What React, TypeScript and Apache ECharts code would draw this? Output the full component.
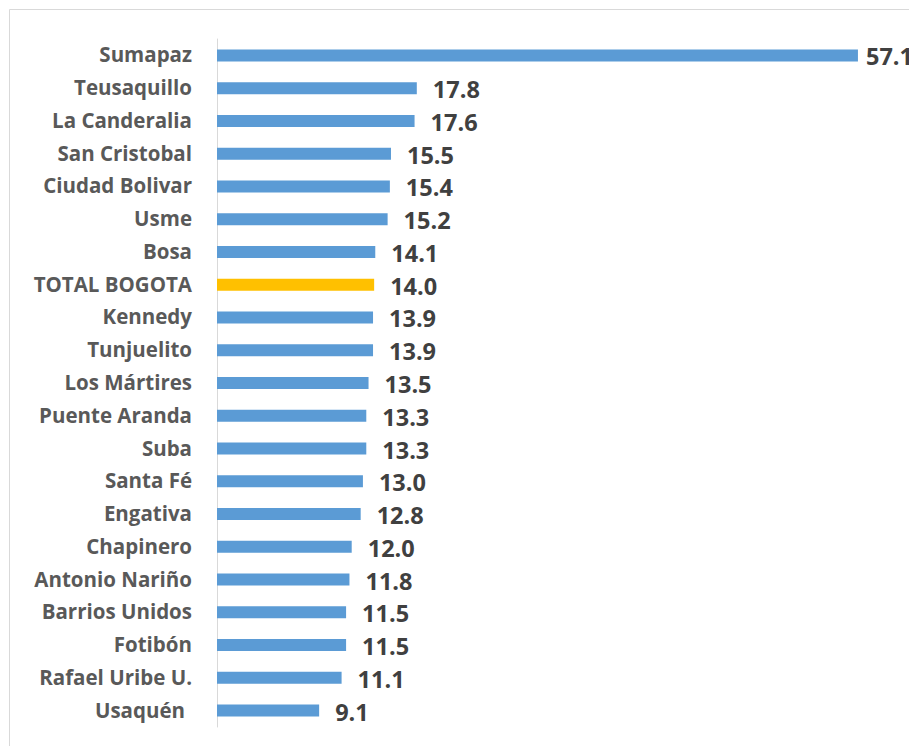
import React, { useEffect, useRef } from "react";
import * as echarts from "echarts";

const categories = [
  "Sumapaz", "Teusaquillo", "La Canderalia", "San Cristobal", "Ciudad Bolivar",
  "Usme", "Bosa", "TOTAL BOGOTA", "Kennedy", "Tunjuelito", "Los Mártires",
  "Puente Aranda", "Suba", "Santa Fé", "Engativa", "Chapinero", "Antonio Nariño",
  "Barrios Unidos", "Fotibón", "Rafael Uribe U.", "Usaquén",
];
const values = [
  57.1, 17.8, 17.6, 15.5, 15.4, 15.2, 14.1, 14.0, 13.9, 13.9, 13.5,
  13.3, 13.3, 13.0, 12.8, 12.0, 11.8, 11.5, 11.5, 11.1, 9.1,
];
const highlight = "TOTAL BOGOTA";

export default function App() {
  const ref = useRef<HTMLDivElement>(null);
  useEffect(() => {
    document.body.style.margin = "0";
    const chart = echarts.init(ref.current!, null, { renderer: "svg" });
    const font = "Open Sans";
    const catStyle = {
      color: "#595959",
      fontFamily: font,
      fontWeight: "bold",
      fontSize: 20.5,
    };
    chart.setOption({
      animation: false,
      backgroundColor: "#ffffff",
      graphic: [
        {
          type: "rect",
          shape: { x: 9.5, y: 9.5, width: 1200, height: 1200 },
          style: { fill: "none", stroke: "#d9d9d9", lineWidth: 1 },
          silent: true,
        },
      ],
      grid: { left: 217, top: 39, width: 673.5, height: 688, containLabel: false },
      xAxis: {
        type: "value",
        min: 0,
        max: 60,
        show: false,
      },
      yAxis: {
        type: "category",
        inverse: true,
        data: categories,
        axisLine: { show: true, lineStyle: { color: "#d9d9d9", width: 1 } },
        axisTick: { show: false },
        axisLabel: {
          margin: 25,
          ...catStyle,
          formatter: (v: string) => (v === "Usaquén" ? "{u|" + v + "}" : "{c|" + v + "}"),
          rich: {
            c: { ...catStyle, padding: [0, 0, 2, 0] },
            u: { ...catStyle, padding: [0, 7, 2, 0] },
          },
        },
        splitLine: { show: false },
      },
      series: [
        {
          type: "bar",
          barWidth: 12,
          data: values.map((v, i) => ({
            value: v,
            itemStyle: { color: categories[i] === highlight ? "#ffc000" : "#5b9bd5" },
            label: { distance: i === 0 ? 8 : 16 },
          })),
          label: {
            show: true,
            position: "right",
            offset: [0, 1],
            color: "#404040",
            fontFamily: font,
            fontWeight: "bold",
            fontSize: 23.5,
            formatter: (p: any) => Number(p.value).toFixed(1),
          },
        },
      ],
    });
    return () => chart.dispose();
  }, []);
  return <div ref={ref} style={{ width: 909, height: 746 }} />;
}
